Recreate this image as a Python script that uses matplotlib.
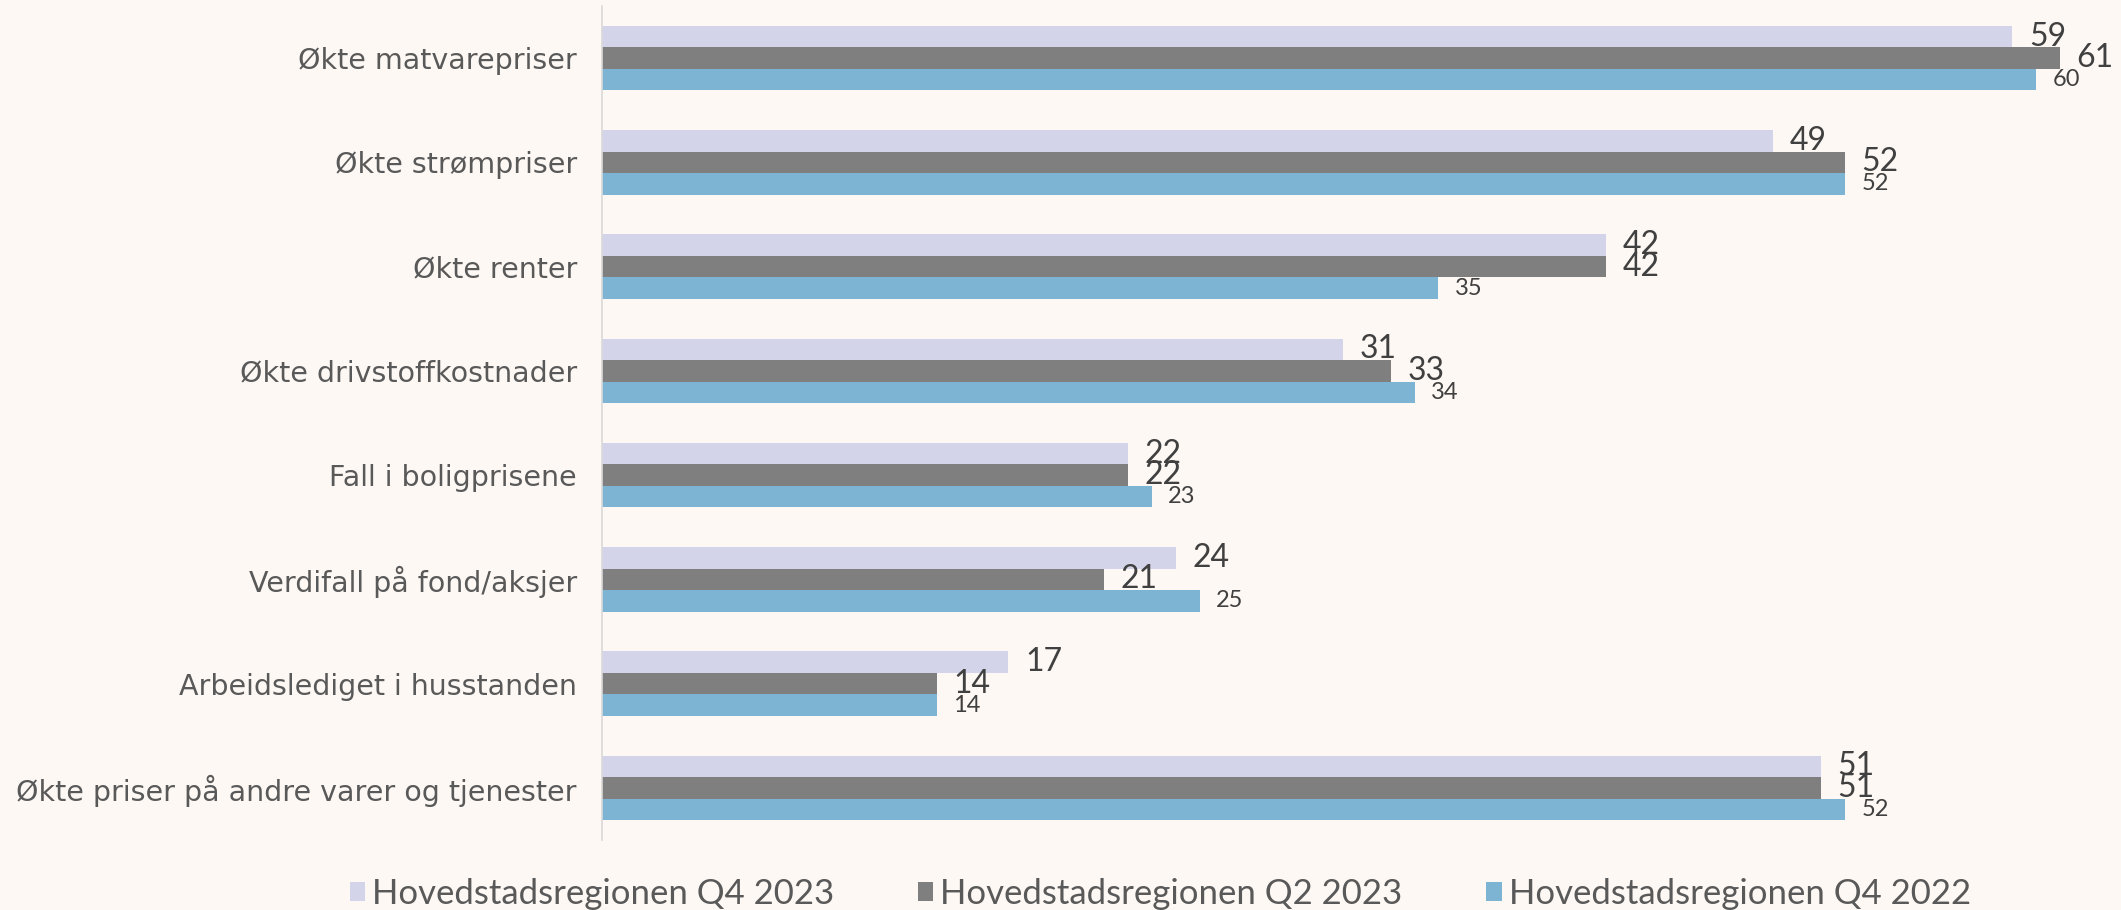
import matplotlib.pyplot as plt
import numpy as np

# Kategorier og verdier (prosent)
kategorier = ['Økte matvarepriser', 'Økte strømpriser', 'Økte renter',
              'Økte drivstoffkostnader', 'Fall i boligprisene',
              'Verdifall på fond/aksjer', 'Arbeidslediget i husstanden',
              'Økte priser på andre varer og tjenester']

serier = ['Hovedstadsregionen Q4 2023', 'Hovedstadsregionen Q2 2023',
          'Hovedstadsregionen Q4 2022']
q4_2023 = [59, 49, 42, 31, 22, 24, 17, 51]
q2_2023 = [61, 52, 42, 33, 22, 21, 14, 51]
q4_2022 = [60, 52, 35, 34, 23, 25, 14, 52]

farger = ['#D3D4EA', '#7F7F7F', '#7DB4D4']
bakgrunn = '#FDF8F4'

plt.rcParams['font.family'] = ['Lato', 'DejaVu Sans']

fig = plt.figure(figsize=(21.21, 9.10), dpi=100, facecolor=bakgrunn)
W, H = 2121, 910
left, top, bottom = 602, 6, 840
xmax = 63
px_per_unit = 23.9
ax = fig.add_axes([left / W, 1 - bottom / H, xmax * px_per_unit / W, (bottom - top) / H])
ax.set_facecolor(bakgrunn)

y = np.arange(len(kategorier))
h = 0.206
verdier = [q4_2023, q2_2023, q4_2022]
offsets = [-h, 0, h]
stor = [23, 23, 17]
for vals, off, farge, navn, fs in zip(verdier, offsets, farger, serier, stor):
    bars = ax.barh(y + off, vals, height=h, color=farge, label=navn)
    for b, v in zip(bars, vals):
        ax.annotate(str(v), (b.get_width(), b.get_y() + b.get_height() / 2),
                    xytext=(12, 0), textcoords='offset points',
                    va='center', ha='left', fontsize=fs, color='#404040')

ax.set_xlim(0, xmax)
ax.set_ylim(len(kategorier) - 0.5, -0.5)
ax.set_yticks(y)
ax.set_yticklabels(kategorier, fontsize=20.5, color='#595959',
                   family=['DejaVu Sans'])
ax.tick_params(axis='y', length=0, pad=18)
ax.set_xticks([])
for s in ['top', 'right', 'bottom']:
    ax.spines[s].set_visible(False)
ax.spines['left'].set_color('#D9D9D9')
ax.spines['left'].set_linewidth(1.2)

fig.legend(loc='center', bbox_to_anchor=(0.547, 1 - 894 / H), ncol=3,
           frameon=False, fontsize=25, labelcolor='#595959',
           handlelength=0.45, handleheight=0.45, handletextpad=0.2,
           columnspacing=2.4)

plt.savefig('out.png', dpi=100, facecolor=bakgrunn)
plt.close()
